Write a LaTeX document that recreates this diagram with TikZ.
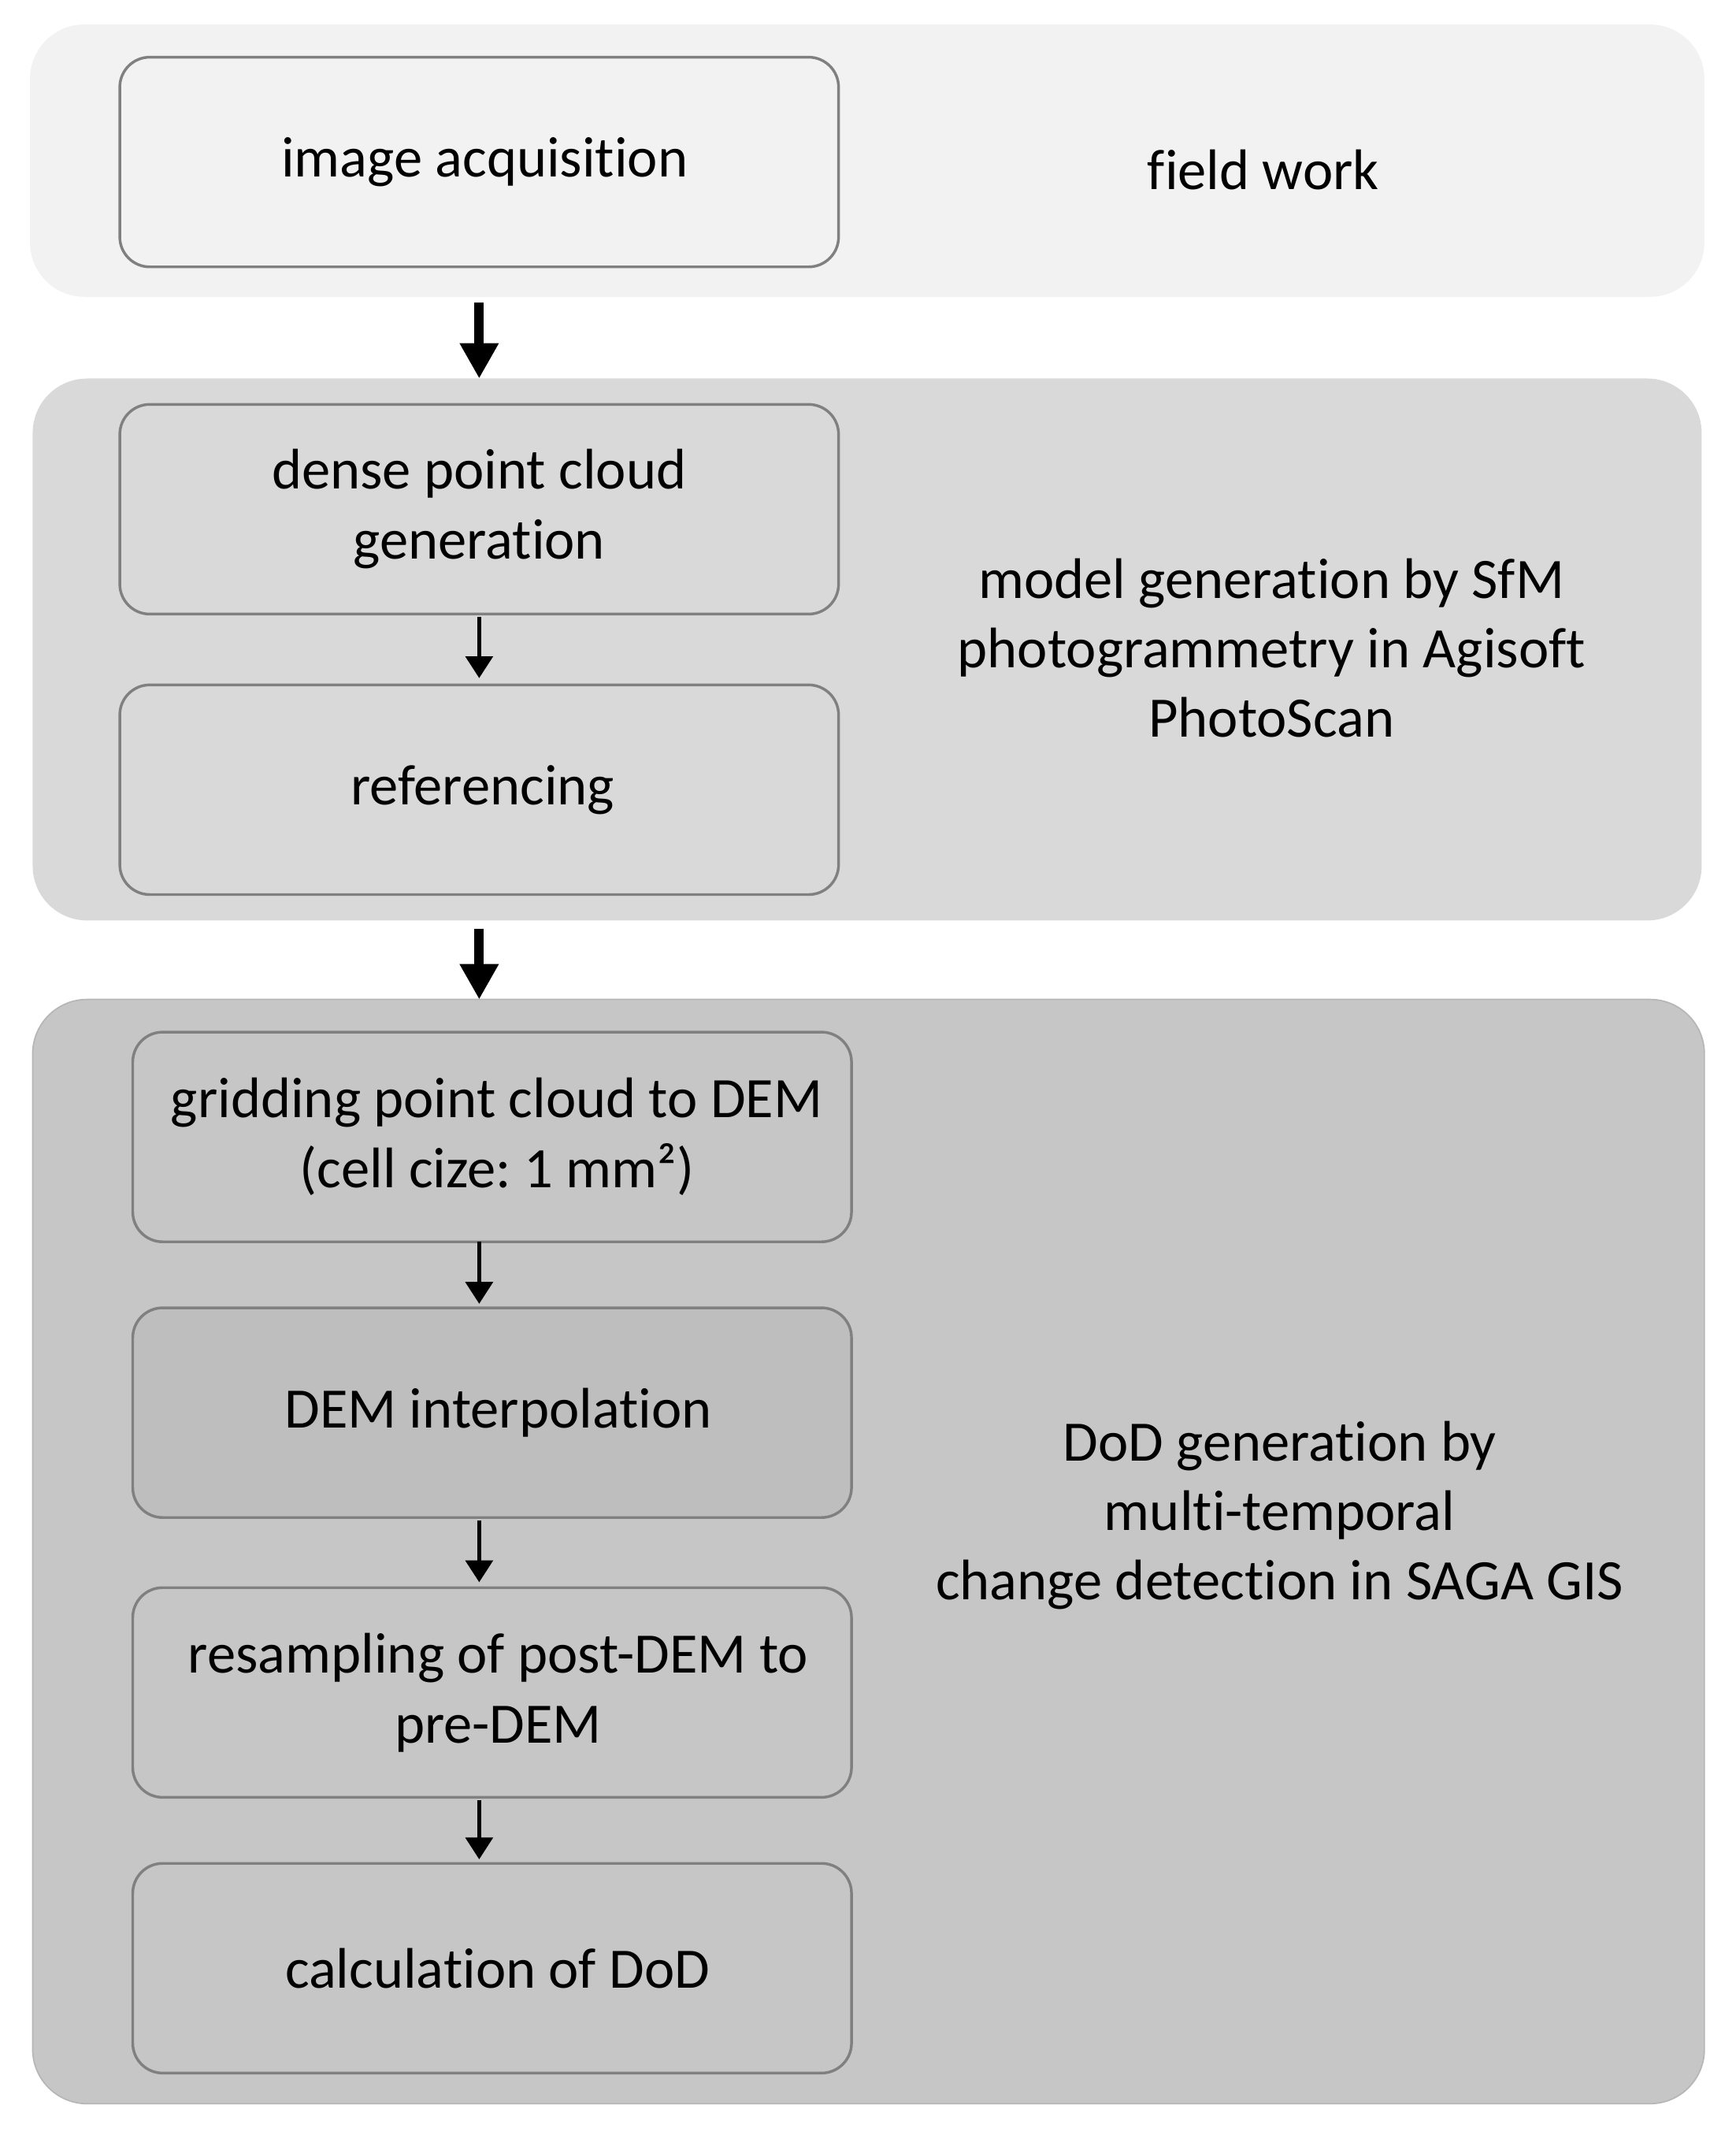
\documentclass[tikz,border=0pt]{standalone}
\usepackage{fontspec}
\setmainfont{Carlito}[Ligatures=NoCommon]
\frenchspacing
\usepackage{tikz}
\usetikzlibrary{arrows.meta}
\usetikzlibrary{positioning}

\definecolor{fieldgray}{HTML}{F2F2F2}
\definecolor{modelgray}{HTML}{D9D9D9}
\definecolor{dodgray}{HTML}{C6C6C6}
\definecolor{interpgray}{HTML}{BEBEBE}
\definecolor{edgegray}{HTML}{808080}

\tikzset{
    panel/.style={rounded corners=40pt, inner sep=0pt, outer sep=0pt},
    stepbox/.style={draw=edgegray, line width=2pt, rounded corners=22pt,
        minimum width=528pt, minimum height=154pt, inner sep=0pt, outer sep=0pt,
        align=center, font=\fontsize{42}{51.5}\selectfont},
    phase/.style={align=center, font=\fontsize{42}{51}\selectfont},
    bigarrow/.style={-{Triangle[width=27pt,length=26pt]}, line width=7pt},
    smallarrow/.style={-{Triangle[width=20pt,length=16pt]}, line width=2.5pt}
}

\begin{document}
\begin{tikzpicture}[x=1pt, y=-1pt]
            \useasboundingbox (0,0) rectangle (1275,1568);
            % background panels
            \node[panel, fill=fieldgray, minimum width=1230pt, minimum height=200pt] (fw) at (637,118) {};
            \node[panel, fill=modelgray, minimum width=1226pt, minimum height=398pt] (mg) at (637,477) {};
            \node[panel, fill=dodgray, draw=dodgray!92!black, line width=1pt, minimum width=1228pt, minimum height=811pt] (dg) at (638,1139.5) {};

            % steps
            \node[stepbox, fill=fieldgray] (acq) at (352,119) {\hspace*{8pt}image acquisition};
            \node[stepbox, fill=modelgray] (dense) at (352,374) {dense point cloud\\generation};
            \node[stepbox, fill=modelgray] (ref) at (352,580) {\hspace*{5pt}referencing};
            \node[stepbox, fill=dodgray] (grid) at (361.5,835) {\hspace*{7pt}gridding point cloud to DEM\\\hspace*{7pt}(cell cize: 1 mm²)};
            \node[stepbox, fill=interpgray] (interp) at (361.5,1037.5) {\hspace*{9pt}DEM interpolation};
            \node[stepbox, fill=dodgray] (resamp) at (361.5,1243) {\hspace*{9pt}resampling of post-DEM to\\\hspace*{9pt}pre-DEM};
            \node[stepbox, fill=dodgray] (calc) at (361.5,1445.5) {\hspace*{8pt}calculation of DoD};

            % phase labels
            \node[phase] (fwlabel) at (928,125) {field work};
            \node[phase] (mglabel) at (934,476) {model generation by SfM\\photogrammetry in Agisoft\\PhotoScan};
            \node[phase] (dglabel) at (940,1113) {DoD generation by\\multi-temporal\\change detection in SAGA GIS};

            % arrows
            \draw[bigarrow, shorten <=4pt] (fw.south -| acq) -- (mg.north -| acq);
            \draw[bigarrow, shorten <=6pt] (mg.south -| acq) -- (dg.north -| acq);
            \draw[smallarrow, shorten <=2pt, shorten >=5pt] (dense) -- (ref);
            \draw[smallarrow, shorten >=3pt] (grid.south -| acq) -- (interp.north -| acq);
            \draw[smallarrow, shorten <=2pt, shorten >=4pt] (interp.south -| acq) -- (resamp.north -| acq);
            \draw[smallarrow, shorten <=2pt, shorten >=3pt] (resamp.south -| acq) -- (calc.north -| acq);
        \end{tikzpicture}
\end{document}
